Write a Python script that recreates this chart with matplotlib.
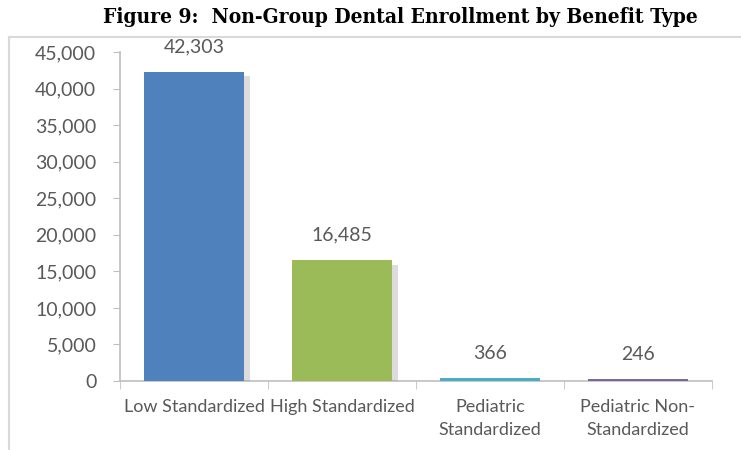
import matplotlib
matplotlib.use("Agg")
import matplotlib.pyplot as plt
import matplotlib.patheffects as pe
from matplotlib.lines import Line2D
from matplotlib.ticker import FuncFormatter

categories = ["Low Standardized", "High Standardized", "Pediatric\nStandardized", "Pediatric Non-\nStandardized"]
enrollment = [42303, 16485, 366, 246]
bar_colors = ["#4F81BD", "#9BBB59", "#4BACC6", "#8064A2"]

text_gray = "#595959"
axis_gray = "#BFBFBF"

plt.rcParams['font.family'] = ['Lato', 'DejaVu Sans']

fig = plt.figure(figsize=(7.41, 4.5), dpi=100)
ax = fig.add_axes([120 / 741, 1 - 381 / 450, 592 / 741, 329 / 450])

x = list(range(len(categories)))
bars = ax.bar(x, enrollment, width=0.68, color=bar_colors, zorder=3)
for b in bars:
    b.set_path_effects([pe.SimplePatchShadow(offset=(4, -3), shadow_rgbFace="#8c8c8c", alpha=0.3),
                        pe.Normal()])

for xi, v in zip(x, enrollment):
    ax.annotate(f"{v:,}", (xi, v), xytext=(0, 12), textcoords="offset points",
                ha="center", va="bottom", fontsize=14, color=text_gray)

ax.set_xlim(-0.5, len(categories) - 0.5)
ax.set_ylim(0, 45000)
ax.set_yticks(range(0, 45001, 5000))
ax.yaxis.set_major_formatter(FuncFormatter(lambda v, p: f"{int(v):,}"))
ax.tick_params(axis="y", labelsize=14, colors=axis_gray, labelcolor=text_gray, length=5, pad=12)

ax.set_xticks(x)
ax.set_xticklabels(categories, linespacing=1.55)
ax.set_xticks([i - 0.5 for i in range(len(categories) + 1)], minor=True)
ax.tick_params(axis="x", which="major", length=0, labelsize=13, labelcolor=text_gray, pad=13)
ax.tick_params(axis="x", which="minor", length=6, color=axis_gray)

for side in ["top", "right"]:
    ax.spines[side].set_visible(False)
for side in ["left", "bottom"]:
    ax.spines[side].set_color(axis_gray)
    ax.spines[side].set_linewidth(1.2)

fig.text(400 / 741, 1 - 17 / 450, "Figure 9:  Non-Group Dental Enrollment by Benefit Type",
         ha="center", va="center", fontsize=15, fontweight="bold", family="DejaVu Serif",
         fontstretch="condensed", color="black")

# outer chart frame
fig.add_artist(Line2D([9 / 741, 1], [1 - 37 / 450, 1 - 37 / 450], color="#D9D9D9", lw=1.5))
fig.add_artist(Line2D([9 / 741, 9 / 741], [0, 1 - 37 / 450], color="#D9D9D9", lw=1.5))

fig.savefig("out.png", dpi=100)
